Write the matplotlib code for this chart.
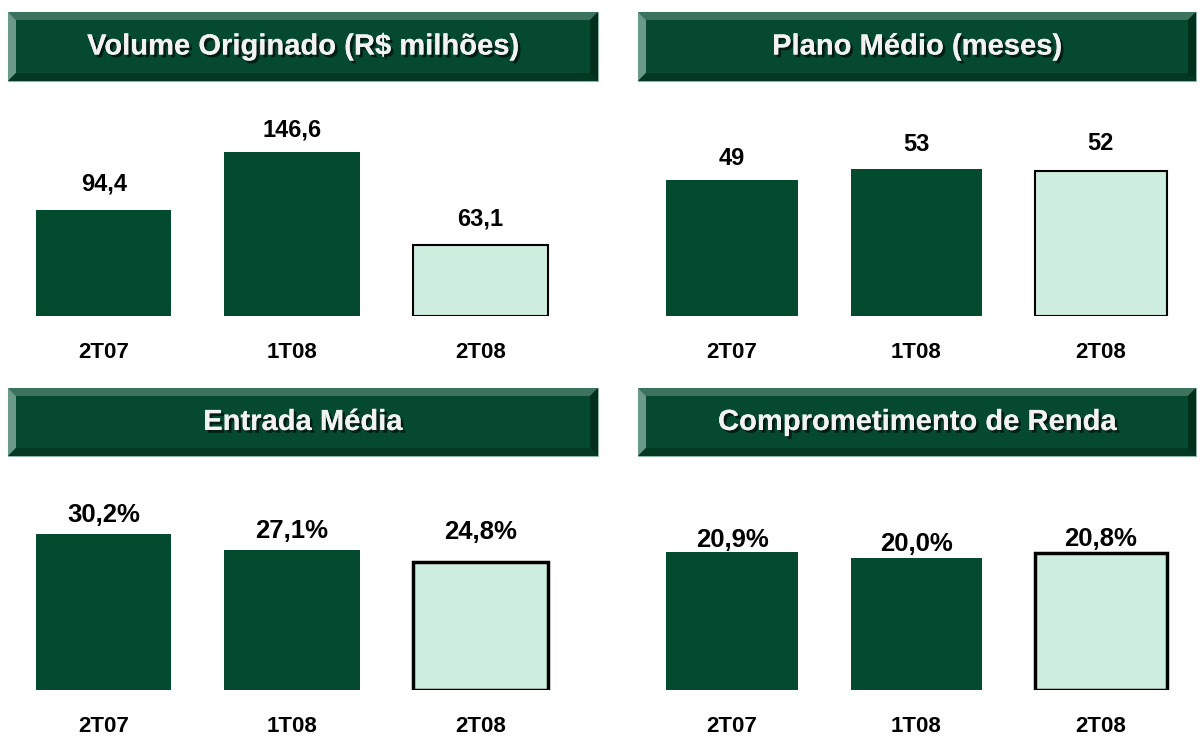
import matplotlib.pyplot as plt
import matplotlib.patches as mpatches
import matplotlib.patheffects as pe

plt.rcParams['font.family'] = ['Liberation Sans', 'DejaVu Sans']

quarters = ['2T07', '1T08', '2T08']

volume = [94.4, 146.6, 63.1]
volume_labels = ['94,4', '146,6', '63,1']

plano = [49, 53, 52]
plano_labels = ['49', '53', '52']

entrada = [30.2, 27.1, 24.8]
entrada_labels = ['30,2%', '27,1%', '24,8%']

renda = [20.9, 20.0, 20.8]
renda_labels = ['20,9%', '20,0%', '20,8%']

titles = ['Volume Originado (R$ milhões)', 'Plano Médio (meses)',
          'Entrada Média', 'Comprometimento de Renda']

W, H = 1204, 738
DARK = '#034a2f'
LIGHT = '#cdeedf'

fig = plt.figure(figsize=(W / 100, H / 100), dpi=100)
fig.patch.set_facecolor('white')


def px_box(x0, y0, x1, y1):
    # pixel box (top-left origin) -> figure fraction rect
    return [x0 / W, 1 - y1 / H, (x1 - x0) / W, (y1 - y0) / H]


def banner(x0, y0, x1, y1, text, b=8):
    def P(x, y):
        return (x / W, 1 - y / H)
    faces = [
        ([P(x0, y0), P(x1, y0), P(x1 - b, y0 + b), P(x0 + b, y0 + b)], '#3d725c'),
        ([P(x0, y0), P(x0 + b, y0 + b), P(x0 + b, y1 - b), P(x0, y1)], '#6b998a'),
        ([P(x1, y0), P(x1, y1), P(x1 - b, y1 - b), P(x1 - b, y0 + b)], '#022e1c'),
        ([P(x0, y1), P(x0 + b, y1 - b), P(x1 - b, y1 - b), P(x1, y1)], '#033823'),
    ]
    fig.patches.append(mpatches.Rectangle(P(x0, y1), (x1 - x0) / W, (y1 - y0) / H,
                                          transform=fig.transFigure,
                                          facecolor='#054a30', edgecolor='#8fb5a7',
                                          linewidth=0.8))
    for pts, c in faces:
        fig.patches.append(mpatches.Polygon(pts, closed=True, transform=fig.transFigure,
                                            facecolor=c, edgecolor='none'))
    fig.text((x0 + x1) / 2 / W, 1 - (y0 + y1) / 2 / H, text, color='#f2f2f2',
             fontsize=21, fontweight='bold', ha='center', va='center',
             path_effects=[pe.withSimplePatchShadow(offset=(2, -2),
                                                     shadow_rgbFace='black', alpha=0.6),
                           pe.Normal()])


def panel(rect, values, labels, px_per_unit, width, offsets, lw, vsize):
    ax = fig.add_axes(rect)
    h_px = rect[3] * H
    colors = [DARK, DARK, LIGHT]
    edges = ['none', 'none', 'black']
    lws = [0, 0, lw]
    for i, v in enumerate(values):
        ax.bar(i, v, width=width, color=colors[i], edgecolor=edges[i],
               linewidth=lws[i], zorder=2)
        ax.annotate(labels[i], (i, v), xytext=(0, offsets[i]), textcoords='offset pixels',
                    ha='center', va='center', fontsize=vsize, fontweight='bold')
    ax.set_xlim(-0.5, 2.5)
    ax.set_ylim(0, h_px / px_per_unit)
    ax.set_xticks(range(3))
    ax.set_xticklabels(quarters, fontsize=16, fontweight='bold')
    ax.tick_params(axis='x', length=0, pad=19)
    ax.set_yticks([])
    for s in ax.spines.values():
        s.set_visible(False)
    ax.patch.set_alpha(0)
    return ax


banner(8, 12, 598, 81, titles[0])
banner(638, 12, 1196, 81, titles[1])
banner(8, 388, 598, 456, titles[2])
banner(638, 388, 1196, 456, titles[3])

panel(px_box(9.5, 100, 574.5, 316), volume, volume_labels, 1.12, 0.72, [26, 22, 26], 1.5, 17)
panel(px_box(640, 100, 1193, 316), plano, plano_labels, 2.78, 0.715, [21, 24, 28], 1.5, 17)
panel(px_box(9.5, 474, 574.5, 690), entrada, entrada_labels, 5.16, 0.72, [19, 19, 30], 2.5, 18.5)
panel(px_box(640, 474, 1193, 690), renda, renda_labels, 6.6, 0.715, [12, 14, 14], 2.5, 18.5)

fig.savefig('out.png', dpi=100, facecolor='white')
